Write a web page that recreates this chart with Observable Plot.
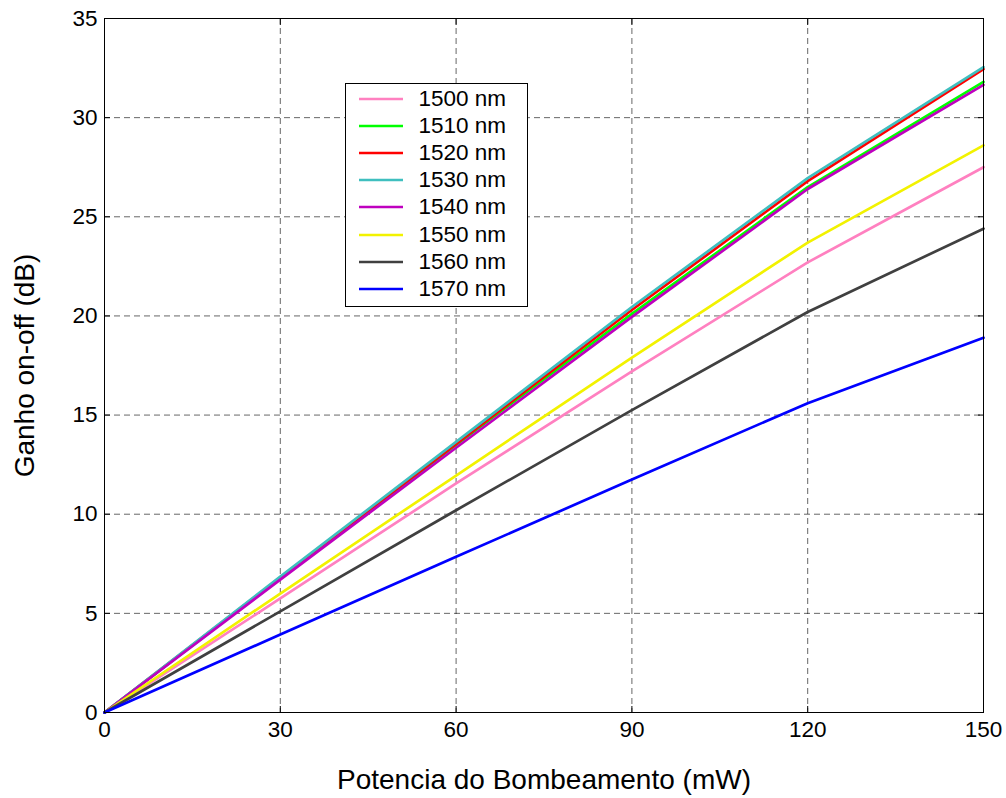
<!DOCTYPE html>
<html>
<head>
<meta charset="utf-8">
<script src="https://cdn.jsdelivr.net/npm/d3@7"></script>
<script src="https://cdn.jsdelivr.net/npm/@observablehq/plot@0.6"></script>
<style>
  html, body { margin: 0; padding: 0; background: #fff; }
  #wrap { position: relative; width: 1006px; height: 798px; font-family: "Liberation Sans", Arial, sans-serif; }
  #legend { position: absolute; left: 345px; top: 83px; width: 183px; height: 224px; border: 1px solid #000; background: #fff; box-sizing: border-box; padding-top: 1px; }
  .row { display: flex; align-items: center; height: 27.2px; font-size: 22.5px; color: #000; }
  .row svg { margin-left: 12.5px; margin-right: 16px; }
</style>
</head>
<body>
<div id="wrap"></div>
<script>
const powers = [0, 30, 60, 90, 120, 150];
const wavelengths = ["1500 nm", "1510 nm", "1520 nm", "1530 nm", "1540 nm", "1550 nm", "1560 nm", "1570 nm"];
const colors = ["#ff80c0", "#00ff00", "#ff0000", "#3fbfbf", "#bf00bf", "#f2f200", "#404040", "#0000ff"];
const g1500 = [0, 5.75, 11.55, 17.2, 22.7, 27.5];
const g1510 = [0, 6.75, 13.5, 20.1, 26.5, 31.8];
const g1520 = [0, 6.8, 13.55, 20.3, 26.8, 32.45];
const g1530 = [0, 6.85, 13.65, 20.45, 26.95, 32.55];
const g1540 = [0, 6.7, 13.35, 19.95, 26.4, 31.65];
const g1550 = [0, 6.0, 11.95, 17.9, 23.7, 28.6];
const g1560 = [0, 5.1, 10.2, 15.25, 20.2, 24.4];
const g1570 = [0, 3.93, 7.85, 11.75, 15.6, 18.9];
const xTicks = [0, 30, 60, 90, 120, 150];
const yTicks = [0, 5, 10, 15, 20, 25, 30, 35];

const series = [g1500, g1510, g1520, g1530, g1540, g1550, g1560, g1570];
const data = series.flatMap((vals, i) => vals.map((v, j) => ({ p: powers[j], g: v, w: wavelengths[i] })));

const gridStyle = { stroke: "#000", strokeOpacity: 0.6, strokeDasharray: "6,4", strokeWidth: 1 };

const chart = Plot.plot({
  width: 1006,
  height: 798,
  marginLeft: 104,
  marginRight: 23,
  marginTop: 18,
  marginBottom: 86,
  style: { fontFamily: "Liberation Sans, Arial, sans-serif", fontSize: "22.5px", background: "#fff", color: "#000" },
  x: { domain: [0, 150] },
  y: { domain: [0, 35] },
  color: { domain: wavelengths, range: colors },
  marks: [
    Plot.gridX(xTicks, gridStyle),
    Plot.gridY(yTicks, gridStyle),
    Plot.axisX(xTicks, { anchor: "bottom", tickSize: 0, tickPadding: 9, label: "Potencia do Bombeamento (mW)", labelAnchor: "center", labelOffset: 76, labelArrow: "none", fontSize: "22.5px" }),
    Plot.axisY(yTicks, { anchor: "left", tickSize: 0, tickPadding: 7, label: "Ganho on-off (dB)", labelAnchor: "center", labelOffset: 90, labelArrow: "none", fontSize: "22.5px" }),
    Plot.axisX(xTicks, { anchor: "bottom", tickSize: -6, label: null, text: null }),
    Plot.axisX(xTicks, { anchor: "top", tickSize: -6, label: null, text: null }),
    Plot.axisY(yTicks, { anchor: "left", tickSize: -6, label: null, text: null }),
    Plot.axisY(yTicks, { anchor: "right", tickSize: -6, label: null, text: null }),
    Plot.line(data, { x: "p", y: "g", z: "w", stroke: "w", strokeWidth: 2.7 }),
    Plot.frame({ stroke: "#000", strokeWidth: 1 })
  ]
});

const wrap = document.getElementById("wrap");
wrap.appendChild(chart);
chart.querySelectorAll("g[aria-label='x-axis label'] text, g[aria-label='y-axis label'] text").forEach(t => t.style.fontSize = "28px");

const legend = document.createElement("div");
legend.id = "legend";
wavelengths.forEach((w, i) => {
  const row = document.createElement("div");
  row.className = "row";
  row.innerHTML = `<svg width="44" height="6"><line x1="0" y1="3" x2="44" y2="3" stroke="${colors[i]}" stroke-width="2.7"/></svg><span>${w}</span>`;
  legend.appendChild(row);
});
wrap.appendChild(legend);
</script>
</body>
</html>
